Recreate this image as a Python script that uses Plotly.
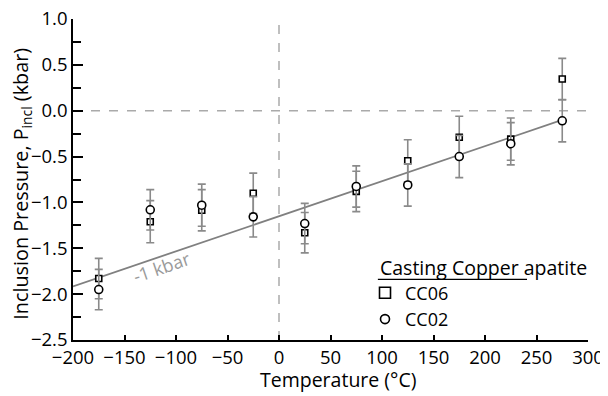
import plotly.graph_objects as go

# ---- data ----
temps = [-175, -125, -75, -25, 25, 75, 125, 175, 225, 275]
cc06_p = [-1.83, -1.21, -1.085, -0.90, -1.33, -0.88, -0.546, -0.29, -0.31, 0.346]
cc06_err = [0.22, 0.23, 0.225, 0.22, 0.22, 0.22, 0.23, 0.23, 0.23, 0.225]
cc02_p = [-1.95, -1.08, -1.03, -1.157, -1.23, -0.826, -0.81, -0.50, -0.36, -0.11]
cc02_err = [0.22, 0.22, 0.23, 0.22, 0.22, 0.225, 0.23, 0.23, 0.23, 0.23]
fit_t = [-200, 275]
fit_p = [-1.915, -0.10]

FONT = "Open Sans"
GREY = "#8a8a8a"

fig = go.Figure()

fig.add_trace(go.Scatter(x=fit_t, y=fit_p, mode="lines",
                         line=dict(color="#808080", width=1.8),
                         showlegend=False, hoverinfo="skip"))

fig.add_trace(go.Scatter(
    x=temps, y=cc06_p, mode="markers", showlegend=False,
    error_y=dict(type="data", array=cc06_err, color=GREY, thickness=1.6, width=4),
    marker=dict(symbol="square", size=6, color="white",
                line=dict(color="black", width=1.6))))

fig.add_trace(go.Scatter(
    x=temps, y=cc02_p, mode="markers", showlegend=False,
    error_y=dict(type="data", array=cc02_err, color=GREY, thickness=1.6, width=4),
    marker=dict(symbol="circle", size=8, color="white",
                line=dict(color="black", width=1.6))))

# legend-only entries
fig.add_trace(go.Scatter(x=[None], y=[None], mode="markers", name="CC06",
                         marker=dict(symbol="square", size=11, color="white",
                                     line=dict(color="black", width=1.6))))
fig.add_trace(go.Scatter(x=[None], y=[None], mode="markers", name="CC02",
                         marker=dict(symbol="circle", size=9, color="white",
                                     line=dict(color="black", width=1.6))))

# dashed reference lines at zero
fig.add_shape(type="line", xref="x", yref="y", x0=0, x1=0, y0=-2.5, y1=1.0,
              line=dict(color="#aaaaaa", width=1.5, dash="dash"), layer="below")
fig.add_shape(type="line", xref="x", yref="y", x0=-200, x1=300, y0=0, y1=0,
              line=dict(color="#aaaaaa", width=1.5, dash="dash"), layer="below")

fig.add_annotation(x=-114, y=-1.70, xref="x", yref="y", text="-1 kbar",
                   showarrow=False, textangle=-19,
                   font=dict(family=FONT, size=18, color="#9a9a9a"))

# axis titles
fig.add_annotation(x=0.5146, y=-0.1246, xref="paper", yref="paper",
                   xanchor="center", yanchor="middle", showarrow=False,
                   text="Temperature (°C)",
                   font=dict(family=FONT, size=19.5, color="black"))
fig.add_annotation(x=-0.099, y=0.487, xref="paper", yref="paper",
                   xanchor="center", yanchor="middle", showarrow=False,
                   textangle=-90,
                   text="Inclusion Pressure, P<sub>incl</sub> (kbar)",
                   font=dict(family=FONT, size=19.8, color="black"))

# legend heading with underline
fig.add_annotation(x=0.592, y=0.225, xref="paper", yref="paper",
                   xanchor="left", yanchor="middle", showarrow=False,
                   text="Casting Copper apatite",
                   font=dict(family=FONT, size=19.5, color="black"))
fig.add_shape(type="line", xref="paper", yref="paper",
              x0=0.592, x1=0.8816, y0=0.189, y1=0.189,
              line=dict(color="black", width=1.3))

# page body has an 8px default margin, so the figure is 8px smaller than the window
fig.update_layout(
    template="none",
    width=600, height=388,
    margin=dict(l=65, r=20, t=11, b=56),
    paper_bgcolor="white", plot_bgcolor="white",
    font=dict(family=FONT, size=19, color="black"),
    legend=dict(
        x=0.567, y=0.204, xanchor="left", yanchor="top",
        bgcolor="rgba(0,0,0,0)", borderwidth=0,
        font=dict(family=FONT, size=18),
        itemwidth=30, tracegroupgap=0,
    ),
)

fig.update_xaxes(
    automargin=False, ticklabeloverflow="allow",
    range=[-200, 300], dtick=50, tick0=0,
    showline=True, linecolor="black", linewidth=1.5,
    ticks="inside", ticklen=5, tickwidth=1.5, tickcolor="black",
    showgrid=False, zeroline=False, mirror=False,
    tickfont=dict(family=FONT, size=18.5),
)
fig.update_yaxes(
    automargin=False, ticklabeloverflow="allow",
    range=[-2.5, 1.0], dtick=0.5, tick0=0, tickformat=".1f",
    showline=True, linecolor="black", linewidth=1.5,
    ticks="inside", ticklen=10, tickwidth=1.5, tickcolor="black",
    minor=dict(dtick=0.25, ticks="inside", ticklen=8, tickwidth=1.5, tickcolor="black",
               showgrid=False),
    showgrid=False, zeroline=False,
    tickfont=dict(family=FONT, size=18.5),
)

fig.write_html("out.html")
